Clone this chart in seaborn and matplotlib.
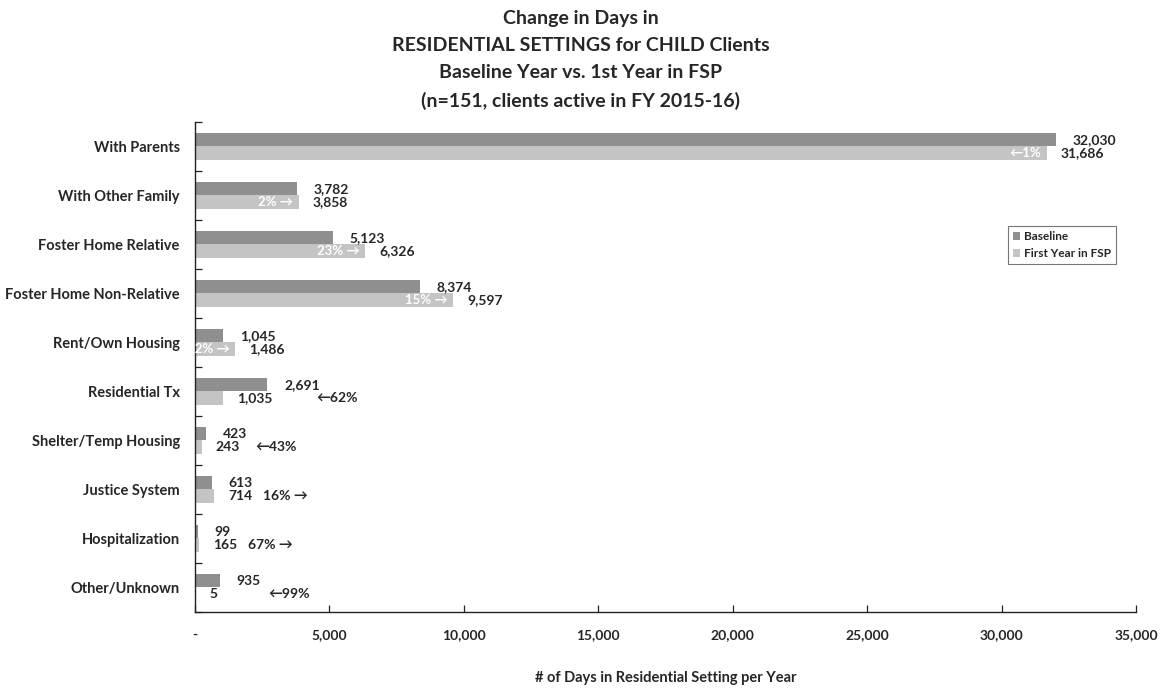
import matplotlib
matplotlib.use("Agg")
import matplotlib.pyplot as plt
import matplotlib.ticker as mticker
import seaborn as sns
import pandas as pd

settings = ["With Parents", "With Other Family", "Foster Home Relative",
            "Foster Home Non-Relative", "Rent/Own Housing", "Residential Tx",
            "Shelter/Temp Housing", "Justice System", "Hospitalization",
            "Other/Unknown"]
baseline = [32030, 3782, 5123, 8374, 1045, 2691, 423, 613, 99, 935]
first_year = [31686, 3858, 6326, 9597, 1486, 1035, 243, 714, 165, 5]
series_names = ["Baseline", "First Year in FSP"]
x_ticks = [0, 5000, 10000, 15000, 20000, 25000, 30000, 35000]

df = pd.DataFrame({
    "setting": settings * 2,
    "days": baseline + first_year,
    "period": [series_names[0]] * len(settings) + [series_names[1]] * len(settings),
})

sns.set_theme(style="white")
plt.rcParams["font.family"] = ["Lato", "DejaVu Sans"]
plt.rcParams["font.weight"] = "bold"

fig = plt.figure(figsize=(11.61, 6.88), dpi=100)
ax = fig.add_axes([0.168, 0.1105, 0.8105, 0.7122])

sns.barplot(data=df, y="setting", x="days", hue="period", orient="h",
            width=0.55, palette=["#8f8f8f", "#c4c4c4"], ax=ax,
            saturation=1, edgecolor="none", linewidth=0)

ax.set_xlim(0, 35000)
ax.set_ylim(len(settings) - 0.5, -0.5)
ax.set_xticks(x_ticks)
ax.xaxis.set_major_formatter(mticker.FuncFormatter(
    lambda v, p: "-" if v == 0 else f"{int(v):,}"))
ax.set_yticks(range(len(settings)))
ax.set_yticklabels(settings, fontsize=10.5, fontweight="bold")
for lab in ax.get_xticklabels():
    lab.set_fontsize(10)
    lab.set_fontweight("bold")

# Tick marks between categories on the value axis
ax.set_yticks([i + 0.5 for i in range(-1, len(settings))], minor=True)
ax.tick_params(axis="y", which="major", length=0, pad=11)
ax.tick_params(axis="y", which="minor", direction="in", length=5, width=0.9,
               color="#222222", left=True)
ax.tick_params(axis="x", which="major", direction="in", length=5, width=0.9,
               color="#222222", bottom=True, pad=12)

for side in ["top", "right"]:
    ax.spines[side].set_visible(False)
for side in ["left", "bottom"]:
    ax.spines[side].set_color("#222222")
    ax.spines[side].set_linewidth(1.0)

ax.set_ylabel("")
ax.set_xlabel("# of Days in Residential Setting per Year", fontsize=10.5,
              fontweight="bold", labelpad=22)

fig.suptitle("Change in Days in\nRESIDENTIAL SETTINGS for CHILD Clients\n"
             "Baseline Year vs. 1st Year in FSP\n(n=151, clients active in FY 2015-16)",
             fontsize=14, fontweight="bold", y=0.985, linespacing=1.72)

# Value labels and change labels
off = 0.1375
for i, (b, f) in enumerate(zip(baseline, first_year)):
    ax.annotate(f"{b:,}", (b, i - off), xytext=(12, 0), textcoords="offset points",
                va="center", ha="left", fontsize=10, fontweight="bold")
    ax.annotate(f"{f:,}", (f, i + off), xytext=(10, 0), textcoords="offset points",
                va="center", ha="left", fontsize=10, fontweight="bold")
    pct = round((f - b) / b * 100)
    txt = f"{abs(pct)}% \u2192" if pct > 0 else f"\u2190{abs(pct)}%"
    if f > 1200:
        ax.annotate(txt, (f, i + off), xytext=(-4, 0), textcoords="offset points",
                    va="center", ha="right", fontsize=9.5, fontweight="bold",
                    color="white")
    else:
        ax.annotate(txt, (max(b, f), i + off), xytext=(35, 0),
                    textcoords="offset points", va="center", ha="left",
                    fontsize=10, fontweight="bold")

leg = ax.legend(loc="upper right", bbox_to_anchor=(0.985, 0.80), fontsize=8.5,
                frameon=True, fancybox=False, handlelength=0.6, handleheight=0.6,
                handletextpad=0.3, borderpad=0.45, labelspacing=0.5)
leg.get_frame().set_edgecolor("#555555")
leg.get_frame().set_linewidth(0.8)
for t in leg.get_texts():
    t.set_fontweight("bold")

fig.savefig("out.png", dpi=100)
